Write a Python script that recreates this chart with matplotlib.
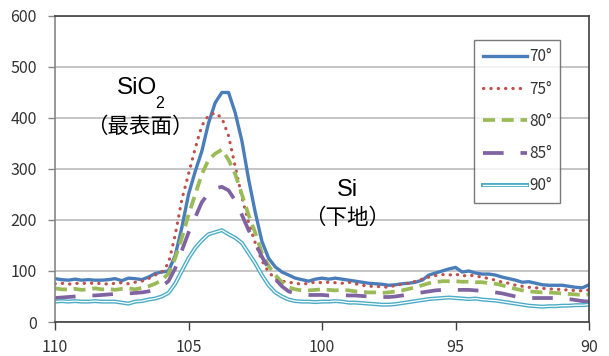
import numpy as np
import matplotlib
matplotlib.use("Agg")
import matplotlib.pyplot as plt

plt.rcParams['font.family'] = ['Noto Sans CJK JP', 'DejaVu Sans']

# binding energy grid (eV), 0.25 eV steps from 110 down to 90
energy = np.arange(110.0, 89.99, -0.25)

angles = ['70°', '75°', '80°', '85°', '90°']

i_70 = [85, 83, 82, 84, 82, 83, 82, 82, 83, 85, 81, 86, 85, 83, 88, 95, 98,
        100, 130, 185, 250, 295, 335, 390, 430, 450, 450, 410, 355, 280, 215, 158, 125, 108, 98, 92, 86, 83, 80, 84,
        86, 84, 86, 84, 82, 80, 78, 76, 75, 74, 72, 73, 75, 76, 78, 82, 92, 96, 100, 104,
        107, 98, 100, 96, 94, 94, 92, 88, 85, 82, 78, 79, 76, 73, 72, 72, 72, 70, 68, 67, 73]
i_75 = [75, 76, 74, 76, 75, 77, 75, 76, 74, 76, 77, 75, 78, 80, 85, 92, 98,
        115, 170, 240, 290, 340, 385, 405, 410, 400, 365, 305, 245, 195, 155, 120, 98, 85, 80, 78, 76, 74, 76, 78,
        77, 78, 77, 76, 78, 75, 72, 70, 70, 69, 68, 72, 74, 76, 80, 84, 88, 91, 93, 92,
        94, 90, 92, 90, 88, 85, 82, 78, 76, 72, 70, 68, 67, 66, 65, 64, 64, 62, 62, 61, 63]
i_80 = [66, 64, 64, 65, 63, 64, 66, 64, 65, 63, 65, 66, 64, 67, 70, 75, 82,
        95, 125, 165, 210, 250, 290, 318, 330, 338, 318, 290, 250, 210, 175, 135, 110, 92, 78, 68, 64, 62, 62, 63,
        64, 63, 62, 63, 62, 60, 59, 58, 58, 57, 58, 60, 62, 65, 68, 72, 76, 78, 80, 80,
        80, 79, 79, 78, 78, 76, 75, 72, 68, 65, 62, 60, 59, 58, 58, 57, 56, 55, 54, 53, 54]
i_85 = [47, 48, 49, 50, 51, 52, 52, 53, 54, 55, 55, 56, 57, 58, 60, 64, 70,
        80, 105, 140, 175, 205, 235, 252, 262, 265, 258, 238, 210, 180, 155, 128, 105, 84, 70, 60, 56, 54, 53, 53,
        53, 52, 53, 53, 52, 52, 51, 50, 50, 49, 49, 50, 52, 54, 56, 58, 60, 62, 63, 63,
        63, 63, 63, 62, 61, 60, 58, 56, 53, 50, 48, 47, 47, 47, 47, 47, 46, 45, 43, 41, 40]
i_90 = [40, 41, 40, 41, 40, 40, 41, 40, 40, 40, 38, 36, 40, 41, 44, 46, 50,
        57, 75, 100, 125, 145, 160, 172, 176, 180, 172, 165, 155, 135, 115, 92, 72, 58, 50, 44, 41, 40, 40, 39,
        40, 40, 41, 40, 38, 38, 37, 36, 35, 34, 34, 35, 37, 39, 41, 43, 45, 46, 47, 48,
        47, 46, 45, 46, 44, 43, 42, 40, 38, 36, 34, 32, 31, 30, 31, 31, 32, 32, 33, 33, 34]

fig = plt.figure(figsize=(6.09, 3.56), dpi=100)
ax = fig.add_axes([0.0903, 0.0955, 0.8769, 0.8596])

l70, = ax.plot(energy, i_70, color='#4A7EBB', lw=2.4, solid_joinstyle='round')
l75, = ax.plot(energy, i_75, color='#C0504D', lw=2.3, linestyle=(0, (0.1, 2.2)),
               dash_capstyle='round')
l80, = ax.plot(energy, i_80, color='#9BBB59', lw=2.7, linestyle=(0, (3.2, 1.8)))
l85, = ax.plot(energy, i_85, color='#8064A2', lw=2.7, linestyle=(0, (5.5, 4.5)))
# double line: thick cyan with a thin white core
l90a, = ax.plot(energy, i_90, color='#4BACC6', lw=2.9)
l90b, = ax.plot(energy, i_90, color='white', lw=0.9)

ax.set_xlim(110, 90)
ax.set_ylim(0, 600)
ax.set_xticks([110, 105, 100, 95, 90])
ax.set_yticks(range(0, 601, 100))
ax.yaxis.grid(True, color='#C0C0C0', lw=1.3)
ax.set_axisbelow(True)

for side in ['top', 'right', 'bottom']:
    ax.spines[side].set_color('#404040')
    ax.spines[side].set_linewidth(1.2)
ax.spines['left'].set_color('#868686')
ax.spines['left'].set_linewidth(1.2)

ax.tick_params(axis='y', length=5, width=1, color='#868686', pad=8,
               labelsize=11.5, labelcolor='#333333')
ax.tick_params(axis='x', length=6, width=1, color='#404040', pad=6,
               labelsize=11.5, labelcolor='#333333')

leg = ax.legend([l70, l75, l80, l85, (l90a, l90b)], angles,
                loc='upper left', bbox_to_anchor=(0.785, 0.922),
                borderaxespad=0, fontsize=11, handlelength=2.9,
                handletextpad=0.15, labelspacing=1.0, borderpad=0.55,
                frameon=True, fancybox=False)
leg.get_frame().set_edgecolor('#595959')
leg.get_frame().set_linewidth(1.0)
for t in leg.get_texts():
    t.set_color('#333333')

ax.text(0.154, 0.765, 'SiO', transform=ax.transAxes, ha='center', va='center',
        fontsize=17.5, family=['Liberation Sans', 'DejaVu Sans'])
ax.text(0.196, 0.713, '2', transform=ax.transAxes, ha='center', va='center',
        fontsize=11.5, family=['Liberation Sans', 'DejaVu Sans'])
ax.text(0.159, 0.637, '（最表面）', transform=ax.transAxes, ha='center', va='center',
        fontsize=15.5)
ax.text(0.547, 0.431, 'Si', transform=ax.transAxes, ha='center', va='center',
        fontsize=17, family=['Liberation Sans', 'DejaVu Sans'])
ax.text(0.547, 0.340, '（下地）', transform=ax.transAxes, ha='center', va='center',
        fontsize=15.5)

fig.savefig('out.png', dpi=100)
